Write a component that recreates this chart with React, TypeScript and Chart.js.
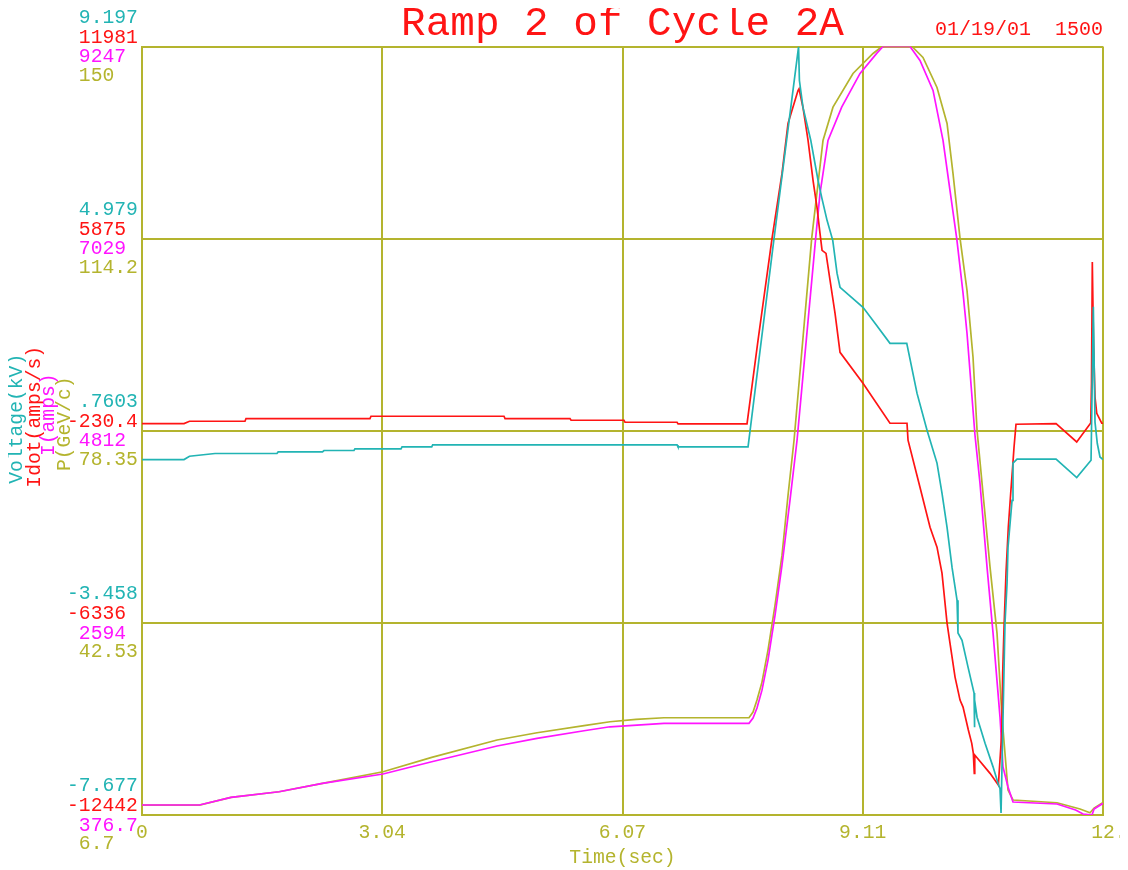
import React, { useEffect, useRef } from "react";
import { Chart, registerables } from "chart.js";

Chart.register(...registerables);

// ---------- text ----------
const TITLE = "Ramp 2 of Cycle 2A";
const DATE_TEXT = "01/19/01  1500";
const X_TITLE = "Time(sec)";
const V_TITLE = "Voltage(kV)";
const IDOT_TITLE = "Idot(amps/s)";
const I_TITLE = "I(amps)";
const P_TITLE = "P(GeV/c)";

// ---------- axes ----------
const X_MIN = 0;
const X_MAX = 12.14;
const X_TICKS = [0, 3.035, 6.07, 9.105, 12.14];
const X_TICK_LABELS = ["0", "3.04", "6.07", "9.11", " 12."];

const V_RANGE = [-7.677, 9.197];
const V_TICK_LABELS = ["-7.677", "-3.458", " .7603", " 4.979", " 9.197"];
const IDOT_RANGE = [-12442, 11981];
const IDOT_TICK_LABELS = ["-12442", "-6336", "-230.4", " 5875", " 11981"];
const I_RANGE = [376.7, 9247];
const I_TICK_LABELS = [" 376.7", " 2594", " 4812", " 7029", " 9247"];
const P_RANGE = [6.7, 150];
const P_TICK_LABELS = [" 6.7", " 42.53", " 78.35", " 114.2", " 150"];

// ---------- series ----------
const voltTime = [
  0, 0.531, 0.6, 0.922, 1.705, 1.72, 2.28, 2.299, 2.678, 2.69, 3.272, 3.285, 3.66, 3.672,
  6.759, 6.771, 7.656, 7.984, 8.294, 8.305, 8.35, 8.448, 8.54, 8.587, 8.654, 8.726, 8.78,
  8.818, 9.108, 9.26, 9.449, 9.661, 9.791, 9.917, 10.043, 10.106, 10.17, 10.233, 10.296,
  10.308, 10.359, 10.435, 10.511, 10.515, 10.52, 10.549, 10.65, 10.751, 10.814, 10.839,
  10.852, 10.902, 10.928, 10.94, 10.991, 11.003, 11.054, 11.547, 11.808, 11.989, 12.018,
  12.039, 12.068, 12.102, 12.14,
];
const voltValues = [
  0.128, 0.128, 0.201, 0.26, 0.26, 0.295, 0.295, 0.326, 0.326, 0.361, 0.361, 0.405, 0.405,
  0.448, 0.448, 0.405, 0.405, 4.98, 9.19, 8.45, 7.86, 7.14, 6.26, 5.88, 5.38, 4.94, 4.22,
  3.91, 3.47, 3.12, 2.68, 2.68, 1.58, 0.77, 0.05, -0.61, -1.36, -2.24, -2.96, -3.68, -3.84,
  -4.43, -5.0, -5.75, -5.15, -5.53, -6.1, -6.62, -6.98, -7.1, -7.63, -3.46, -2.59, -1.8,
  -0.77, 0.05, 0.135, 0.135, -0.267, 0.113, 3.48, 0.95, 0.48, 0.185, 0.128,
];

const idotTime = [
  0, 0.531, 0.6, 1.301, 1.314, 2.88, 2.893, 4.573, 4.586, 5.407, 5.42, 6.089, 6.102, 6.759,
  6.772, 7.643, 7.782, 7.959, 8.085, 8.161, 8.287, 8.3, 8.35, 8.414, 8.477, 8.527, 8.565,
  8.591, 8.641, 8.692, 8.755, 8.818, 9.108, 9.449, 9.664, 9.677, 9.828, 9.955, 10.043,
  10.106, 10.17, 10.207, 10.271, 10.334, 10.372, 10.439, 10.482, 10.502, 10.514, 10.52,
  10.713, 10.818, 10.861, 10.873, 10.89, 10.915, 10.944, 10.974, 11.0, 11.016, 11.041,
  11.547, 11.808, 11.985, 11.995, 12.005, 12.02, 12.039, 12.061, 12.124, 12.14,
];
const idotValues = [
  -2, -2, 71, 71, 157, 157, 230, 230, 157, 157, 103, 103, 39, 39, -15, -15, 2644, 5883,
  7947, 9535, 10583, 10637, 10043, 8995, 7725, 6867, 6042, 5502, 5407, 4549, 3501, 2262,
  1278, 8, 8, -532, -2025, -3295, -3931, -4756, -6344, -6979, -8059, -8790, -9012, -9742,
  -10165, -10482, -11118, -10536, -11118, -11489, -9838, -7932, -6471, -4725, -3295, -2216,
  -1326, -755, -24, -2, -586, 17, 1287, 5130, 2548, 843, 325, 8, 8,
];

const currentTime = [
  0, 0.726, 1.124, 1.731, 2.28, 3.045, 3.66, 4.485, 4.99, 5.584, 5.912, 6.594, 7.668, 7.719,
  7.769, 7.832, 7.908, 7.997, 8.085, 8.186, 8.275, 8.51, 8.565, 8.666, 8.839, 9.071, 9.281,
  9.361, 9.702, 9.828, 9.993, 10.119, 10.207, 10.292, 10.372, 10.422, 10.523, 10.586,
  10.675, 10.751, 10.839, 10.877, 10.94, 11.003, 11.559, 11.794, 11.888, 12.001, 12.027,
  12.128, 12.14,
];
const currentValues = [
  492, 492, 581, 645, 742, 850, 991, 1173, 1261, 1349, 1395, 1435, 1435, 1495, 1611, 1818,
  2165, 2684, 3260, 4010, 4702, 7032, 7552, 8163, 8547, 8936, 9167, 9247, 9247, 9086, 8740,
  8163, 7586, 7032, 6400, 5937, 4760, 4206, 3237, 2476, 1507, 930, 700, 527, 504, 434, 388,
  377, 446, 504, 504,
];

const momTime = [
  0, 0.726, 1.124, 1.731, 2.28, 3.045, 3.66, 4.485, 4.99, 5.584, 5.912, 6.241, 6.594, 7.668,
  7.719, 7.769, 7.832, 7.908, 7.997, 8.085, 8.161, 8.237, 8.46, 8.603, 8.729, 8.982, 9.235,
  9.348, 9.727, 9.866, 10.043, 10.17, 10.245, 10.334, 10.422, 10.498, 10.549, 10.624,
  10.713, 10.801, 10.864, 10.94, 11.003, 11.559, 11.85, 11.976, 12.027, 12.128, 12.14,
];
const momValues = [
  8.56, 8.56, 10.0, 11.04, 12.61, 14.77, 17.45, 20.68, 22.04, 23.38, 24.09, 24.53, 24.83,
  24.83, 25.89, 28.13, 31.48, 37.45, 45.83, 55.15, 66.33, 76.58, 114.22, 132.49, 138.69,
  144.97, 148.7, 150, 150, 147.95, 142.36, 135.65, 126.34, 114.22, 104.53, 92.05, 78.44,
  66.7, 52.91, 40.62, 24.96, 11.36, 9.5, 8.99, 7.82, 7.13, 8.0, 8.94, 8.94,
];

// ---------- style ----------
const FONT = "'Liberation Mono', 'DejaVu Sans Mono', monospace";
const SMALL = 19.7;
const OLIVE = "#b4b42e";
const CYAN = "#22b4b4";
const RED = "#ff1414";
const MAGENTA = "#ff14ff";

const pairs = (xs: number[], ys: number[]) => xs.map((x, i) => ({ x, y: ys[i] }));

function yAxis(range: number[], labels: string[], color: string, offset: number, main: boolean) {
  return {
    type: "linear",
    position: "left",
    min: range[0],
    max: range[1],
    afterBuildTicks: (s: any) => {
      s.ticks = labels.map((_, i) => ({ value: range[0] + ((range[1] - range[0]) * i) / (labels.length - 1) }));
    },
    afterFit: (s: any) => {
      s.width = 0;
      s.paddingTop = 0;
      s.paddingBottom = 0;
    },
    grid: { display: main, color: OLIVE, lineWidth: 2, drawTicks: false },
    border: { display: main, color: OLIVE, width: 2 },
    ticks: {
      autoSkip: false,
      mirror: true,
      crossAlign: "near",
      color,
      padding: -75,
      labelOffset: offset,
      font: { family: FONT, size: SMALL },
      callback: (_v: any, i: number) => labels[i],
    },
  };
}

const sidePlugin = {
  id: "sideTexts",
  afterDraw(chart: any) {
    const { ctx, chartArea } = chart;
    ctx.save();
    ctx.font = `20px ${FONT}`;
    ctx.fillStyle = RED;
    ctx.textAlign = "right";
    ctx.textBaseline = "alphabetic";
    ctx.fillText(DATE_TEXT, chartArea.right, chartArea.top - 11.5);

    const mid = (chartArea.top + chartArea.bottom) / 2;
    const titles: [string, string, number, number][] = [
      [V_TITLE, CYAN, 8.3, mid - 12],
      [IDOT_TITLE, RED, 27, mid - 14],
      [I_TITLE, MAGENTA, 40.5, mid - 16],
      [P_TITLE, OLIVE, 57.2, mid - 7],
    ];
    ctx.font = `${SMALL}px ${FONT}`;
    ctx.textAlign = "center";
    ctx.textBaseline = "middle";
    for (const [text, color, x, y] of titles) {
      ctx.save();
      ctx.translate(x, y);
      ctx.rotate(-Math.PI / 2);
      ctx.fillStyle = color;
      ctx.fillText(text, 0, 0);
      ctx.restore();
    }
    ctx.restore();
  },
};

export default function App() {
  const ref = useRef<HTMLCanvasElement | null>(null);
  useEffect(() => {
    if (!ref.current) return;
    const line = (label: string, xs: number[], ys: number[], color: string, axis: string) => ({
      label,
      data: pairs(xs, ys),
      borderColor: color,
      backgroundColor: color,
      borderWidth: 1.7,
      pointRadius: 0,
      tension: 0,
      fill: false,
      yAxisID: axis,
    });
    const chart = new Chart(ref.current, {
      type: "line",
      data: {
        datasets: [
          line(V_TITLE, voltTime, voltValues, CYAN, "yV"),
          line(IDOT_TITLE, idotTime, idotValues, RED, "yIdot"),
          line(I_TITLE, currentTime, currentValues, MAGENTA, "yI"),
          line(P_TITLE, momTime, momValues, OLIVE, "yP"),
        ],
      },
      options: {
        responsive: false,
        animation: false,
        devicePixelRatio: 1,
        events: [],
        layout: { padding: { left: 134, right: 17, top: 0, bottom: 0 } },
        plugins: {
          legend: { display: false },
          tooltip: { enabled: false },
          title: {
            display: true,
            text: TITLE,
            color: RED,
            fullSize: false,
            font: { family: FONT, size: 41, lineHeight: 1, weight: "normal" },
            padding: { top: -4.5, bottom: 2 },
          },
        },
        scales: {
          x: {
            type: "linear",
            min: X_MIN,
            max: X_MAX,
            afterBuildTicks: (s: any) => {
              s.ticks = X_TICKS.map((v) => ({ value: v }));
            },
            afterFit: (s: any) => {
              s.height = 55;
              s.paddingLeft = 0;
              s.paddingRight = 0;
            },
            grid: { color: OLIVE, lineWidth: 2, drawTicks: false },
            border: { color: OLIVE, width: 2 },
            ticks: {
              autoSkip: false,
              maxRotation: 0,
              color: OLIVE,
              padding: 6,
              font: { family: FONT, size: SMALL },
              callback: (_v: any, i: number) => X_TICK_LABELS[i],
            },
            title: {
              display: true,
              text: X_TITLE,
              color: OLIVE,
              font: { family: FONT, size: SMALL },
              padding: { top: 0, bottom: 0 },
            },
          },
          yV: yAxis(V_RANGE, V_TICK_LABELS, CYAN, -29, false),
          yIdot: yAxis(IDOT_RANGE, IDOT_TICK_LABELS, RED, -9, false),
          yI: yAxis(I_RANGE, I_TICK_LABELS, MAGENTA, 10.5, false),
          yP: yAxis(P_RANGE, P_TICK_LABELS, OLIVE, 29, true),
        } as any,
      },
      plugins: [sidePlugin],
    } as any);
    return () => chart.destroy();
  }, []);
  return <canvas ref={ref} width={1112} height={862} style={{ display: "block" }} />;
}
